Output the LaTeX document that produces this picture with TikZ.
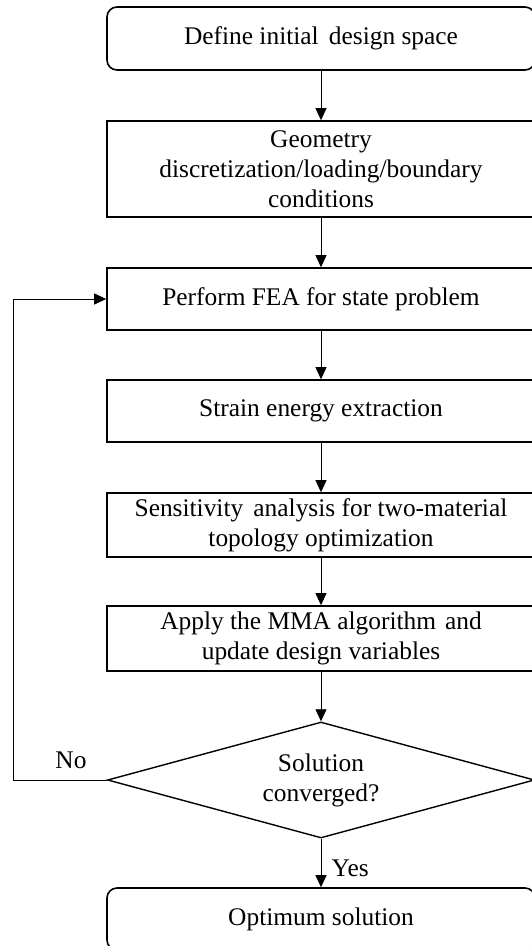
\documentclass[tikz,border=0pt]{standalone}
\usepackage{fontspec}
\setmainfont{Liberation Serif}
\usetikzlibrary{arrows.meta,shapes.geometric}
\begin{document}
\begin{tikzpicture}[x=1pt, y=-1pt, font=\fontsize{25.4}{30}\selectfont,
	stepbox/.style={draw, line width=1.6pt, minimum width=428pt, align=center, inner sep=0pt},
	endbox/.style={stepbox, rounded corners=10pt},
	decide/.style={draw, diamond, line width=1.4pt, minimum width=427pt, minimum height=116pt, shape aspect=3.66, align=center, inner sep=0pt},
	arr/.style={-{Triangle[length=12pt, width=11pt]}, line width=0.8pt}]
	\useasboundingbox (0,0) rectangle (532,946);
	\node[endbox, minimum height=63pt] (start) at (321,38.5) {Define initial \hspace{0.15em}design space};
	\node[stepbox, minimum height=96pt] (geo) at (321,169) {Geometry\\discretization/loading/boundary\\conditions};
	\node[stepbox, minimum height=62pt] (fea) at (321,299) {Perform FEA for state problem};
	\node[stepbox, minimum height=62pt] (strain) at (321,411) {Strain energy extraction};
	\node[stepbox, minimum height=64pt] (sens) at (321,525) {Sensitivity \hspace{0.15em}analysis for two-material\\topology optimization};
	\node[stepbox, minimum height=65pt] (mma) at (321,638.5) {Apply the MMA algorithm \hspace{0.1em}and\\update design variables};
	\node[decide] (conv) at (321,780) {Solution\\converged?};
	\node[endbox, minimum height=62pt] (opt) at (321,919) {Optimum solution};
	\coordinate (back) at (13,780);
	\draw[arr] (start) -- (geo);
	\draw[arr] (geo) -- (fea);
	\draw[arr] (fea) -- (strain);
	\draw[arr] (strain) -- (sens);
	\draw[arr] (sens) -- (mma);
	\draw[arr] (mma) -- (conv);
	\draw[arr] (conv) -- node[right, xshift=7pt, yshift=-5pt] {Yes} (opt);
	\draw[arr] (conv.west) -- (back) |- (fea.west);
	\node (no) at (71,760) {No};
\end{tikzpicture}
\end{document}
